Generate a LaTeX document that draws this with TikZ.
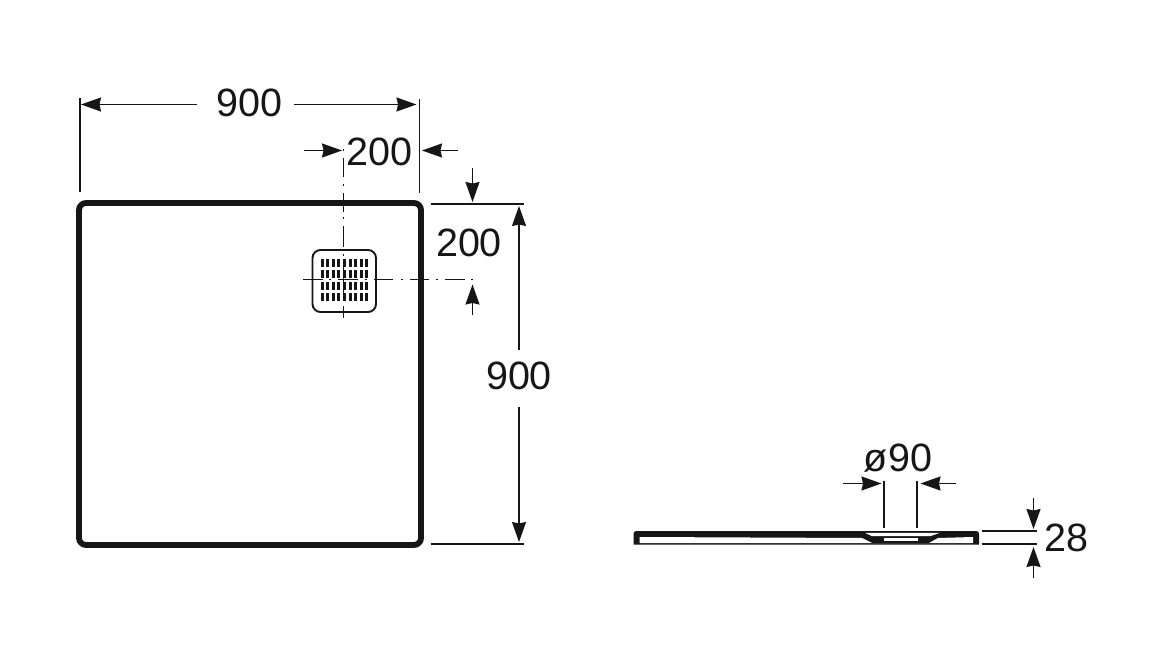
\documentclass[tikz,border=0pt]{standalone}
\usepackage{fontspec}
\setmainfont{Liberation Sans}
\usetikzlibrary{arrows.meta}
\definecolor{ink}{HTML}{161616}
\tikzset{
  dimtext/.style={inner sep=0pt,font=\fontsize{39.5}{39.5}\selectfont,text=ink},
  thin line/.style={draw=ink,line width=1.4pt},
  dimarrow/.style={thin line,-{Stealth[length=20pt,width=14pt,inset=1.5pt]}},
  outline/.style={draw=ink,line width=5.8pt,rounded corners=7pt},
  center line/.style={draw=ink,line width=1.4pt},
  slot/.style={fill=ink,draw=none}
}
\begin{document}
\begin{tikzpicture}[x=1pt,y=-1pt]
\useasboundingbox[fill=white] (0,0) rectangle (1176,647);
% plan
\node[outline,minimum width=342pt,minimum height=342pt,inner sep=0pt] (tray) at (250,374) {};
\draw[draw=ink,line width=1.9pt,rounded corners=8pt] (312.5,250) rectangle (376,312);
\foreach \c in {0,...,8}{
  \foreach \r/\t in {0/259,1/270,2/281.7,3/292.7}{
    \fill[slot] ({322+\c*5.6-1.5},\t) rectangle ++(3,8.4);
  }
}
\draw[center line] (343.7,149.5)--(343.7,151.5) (343.7,158)--(343.7,177) (343.7,184.5)--(343.7,186.5)
  (343.7,193)--(343.7,212) (343.7,217.5)--(343.7,219.5) (343.7,226)--(343.7,247)
  (343.7,254.5)--(343.7,256.5) (343.7,262)--(343.7,300) (343.7,306)--(343.7,318);
\draw[center line] (303,279.5)--(323,279.5) (329,279.5)--(331,279.5) (338,279.5)--(358,279.5) (365,279.5)--(367,279.5)
  (374,279.5)--(393,279.5) (401,279.5)--(403,279.5) (410,279.5)--(429,279.5) (436,279.5)--(438,279.5)
  (445,279.5)--(465,279.5) (471,279.5)--(473,279.5);
% top dimension 900
\coordinate (eL1) at (80,98); \coordinate (eL2) at (80,192);
\coordinate (eR1) at (419.3,99); \coordinate (eR2) at (419.3,193);
\draw[thin line] (eL1)--(eL2);
\draw[thin line] (eR1)--(eR2);
\node[dimtext] (t900h) at (249.5,102.5) {900};
\coordinate (a1) at (81,104.5); \coordinate (a2) at (416.5,104.5);
\draw[dimarrow] (197,104.5)--(a1);
\draw[dimarrow] (294,104.5)--(a2);
% 200 horizontal
\node[dimtext] (t200h) at (379.5,151.5) {200};
\coordinate (b1s) at (304,150.5); \coordinate (b1) at (342,150.5);
\coordinate (b2s) at (458,150.5); \coordinate (b2) at (422,150.5);
\draw[dimarrow] (b1s)--(b1);
\draw[dimarrow] (b2s)--(b2);
% right extension lines
\coordinate (h1a) at (430.5,204); \coordinate (h1b) at (524,204);
\coordinate (h2a) at (430.5,544); \coordinate (h2b) at (524,544);
\draw[thin line] (h1a)--(h1b);
\draw[thin line] (h2a)--(h2b);
% 200 vertical
\node[dimtext] (t200v) at (469,243) {200};
\coordinate (c1s) at (472.5,168); \coordinate (c1) at (472.5,202);
\coordinate (c2s) at (472.5,315); \coordinate (c2) at (472.5,284.5);
\draw[dimarrow] (c1s)--(c1);
\draw[dimarrow] (c2s)--(c2);
% 900 vertical
\node[dimtext] (t900v) at (519,376) {900};
\draw[dimarrow] (519,350)--(519,206);
\draw[dimarrow] (519,407)--(519,542);
% side view
\fill[ink] (633.5,544.5)--(633.5,534) .. controls (633.5,532) and (634.5,531) .. (636.5,531)--(976,531) .. controls (978,531) and (979,532) .. (979,534)--(979,544.5)--cycle;
\fill[white] (639.5,537)--(862,538)--(872,543)--(929,543)--(938,538)--(973,537)--(973,543)--(639.5,543)--cycle;
\fill[white] (865,532.8)--(940,532.8)--(930,536.2)--(872,536.2)--cycle;
\fill[white] (884,538) rectangle (918,540.6);
% 90 dimension
\node[dimtext] (t90) at (898,458) {ø90};
\coordinate (d1a) at (884,481); \coordinate (d1b) at (884,528);
\coordinate (d2a) at (917,481); \coordinate (d2b) at (917,528);
\draw[thin line] (d1a)--(d1b);
\draw[thin line] (d2a)--(d2b);
\draw[dimarrow] (843,483.5)--(881.5,483.5);
\draw[dimarrow] (956,483.5)--(920.5,483.5);
% 28 dimension
\node[dimtext] (t28) at (1066.5,538) {28};
\coordinate (e1a) at (982,531); \coordinate (e1b) at (1037,531);
\coordinate (e2a) at (982,544); \coordinate (e2b) at (1037,544);
\draw[thin line] (e1a)--(e1b);
\draw[thin line] (e2a)--(e2b);
\draw[dimarrow] (1033.5,498)--(1033.5,529);
\draw[dimarrow] (1033.5,578)--(1033.5,547);
\end{tikzpicture}
\end{document}
